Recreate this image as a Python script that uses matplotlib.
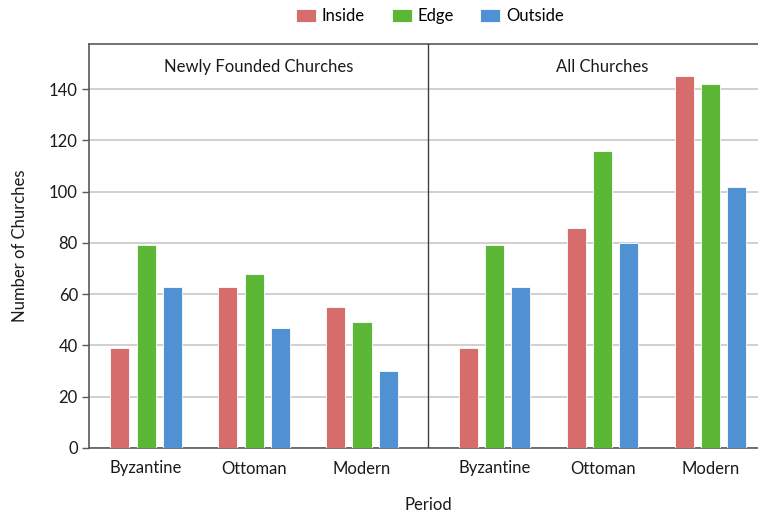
import matplotlib
matplotlib.use("Agg")
import matplotlib.pyplot as plt
import numpy as np

plt.rcParams['font.family'] = ['Lato', 'DejaVu Sans']

periods = ["Byzantine", "Ottoman", "Modern"]
panels = ["Newly Founded Churches", "All Churches"]
series = ["Inside", "Edge", "Outside"]

new_inside = [39, 63, 55]
new_edge = [79, 68, 49]
new_outside = [63, 47, 30]

all_inside = [39, 86, 145]
all_edge = [79, 116, 142]
all_outside = [63, 80, 102]

colors = ["#D76C6C", "#5DB737", "#4F91D3"]
fs = 12

fig = plt.figure(figsize=(7.58, 5.15), dpi=100)
ax = fig.add_axes([89 / 758, 67 / 515, 688 / 758, 404 / 515])

left_pos = np.arange(3)
right_pos = np.arange(3) + 3.23
bar_w = 0.176
offset = 0.241

panel_data = [
    (left_pos, [new_inside, new_edge, new_outside]),
    (right_pos, [all_inside, all_edge, all_outside]),
]

handles = []
for pos, vals in panel_data:
    for i, (v, c) in enumerate(zip(vals, colors)):
        b = ax.bar(pos + (i - 1) * offset, v, width=bar_w, color=c,
                   edgecolor="white", linewidth=0.6, zorder=3)
        if pos is left_pos:
            handles.append(b)

divider = 2.611
ax.set_xlim(-0.528, 5.843)
ax.set_ylim(0, 157.6)
ax.axvline(divider, color="#404040", linewidth=1.0, zorder=4)

ax.set_yticks(np.arange(0, 141, 20))
ax.yaxis.grid(True, color="#C8C8C8", linewidth=1.2, zorder=0)
ax.set_axisbelow(True)

ax.set_xticks(np.concatenate([left_pos, right_pos]))
ax.set_xticklabels(periods + periods, fontsize=fs, color="#1a1a1a")
ax.tick_params(axis="x", length=0, pad=9)
ax.tick_params(axis="y", length=5, width=1, color="#595959",
               labelsize=fs, labelcolor="#1a1a1a", pad=3)

for side in ["left", "top", "bottom"]:
    ax.spines[side].set_color("#595959")
    ax.spines[side].set_linewidth(1.2)
ax.spines["right"].set_visible(False)

ax.text((-0.528 + divider) / 2, 148.6, panels[0], ha="center", va="center",
        fontsize=fs, color="#1a1a1a")
ax.text((divider + 5.843) / 2, 148.6, panels[1], ha="center", va="center",
        fontsize=fs, color="#1a1a1a")

ax.set_ylabel("Number of Churches", fontsize=fs, color="#1a1a1a", labelpad=15)
fig.text(428 / 758, 1 - 505 / 515, "Period", ha="center", va="center",
         fontsize=fs, color="#1a1a1a")

fig.legend(handles, series, loc="center", bbox_to_anchor=(430 / 758, 1 - 16 / 515),
           ncol=3, frameon=False, fontsize=fs, handlelength=1.2,
           handleheight=0.8, columnspacing=1.6, handletextpad=0.35)

fig.savefig("out.png", dpi=100)
